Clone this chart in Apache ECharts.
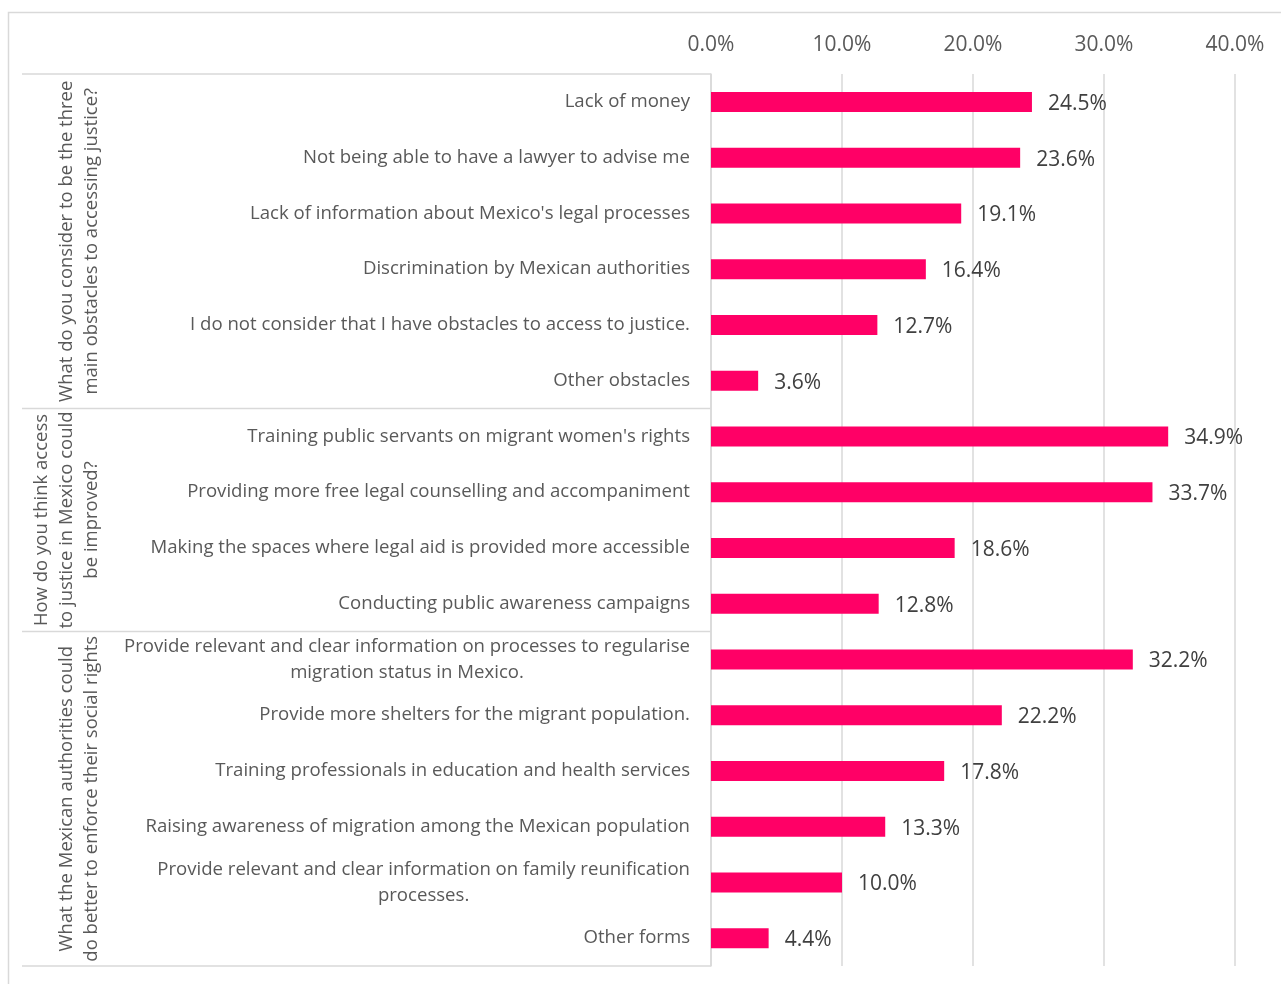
<!DOCTYPE html>
<html>
<head>
<meta charset="utf-8">
<script src="https://cdn.jsdelivr.net/npm/echarts@6/dist/echarts.min.js"></script>
<style>
html, body { margin: 0; padding: 0; background: #fff; }
#main { width: 1281px; height: 984px; }
</style>
</head>
<body>
<div id="main"></div>
<script>
// categories top to bottom
var categories = [
  "Lack of money",
  "Not being able to have a lawyer to advise me",
  "Lack of information about Mexico's legal processes",
  "Discrimination by Mexican authorities",
  "I do not consider that I have obstacles to access to justice.",
  "Other obstacles",
  "Training public servants on migrant women's rights",
  "Providing more free legal counselling and accompaniment",
  "Making the spaces where legal aid is provided more accessible",
  "Conducting public awareness campaigns",
  "Provide relevant and clear information on processes to regularise\nmigration status in Mexico.",
  "Provide more shelters for the migrant population.",
  "Training professionals in education and health services",
  "Raising awareness of migration among the Mexican population",
  "Provide relevant and clear information on family reunification\nprocesses.",
  "Other forms"
];
var values = [24.5, 23.6, 19.1, 16.4, 12.7, 3.6, 34.9, 33.7, 18.6, 12.8, 32.2, 22.2, 17.8, 13.3, 10.0, 4.4];
var groupNames = [
  "What do you consider to be the three\nmain obstacles to accessing justice?",
  "How do you think access\nto justice in Mexico could\nbe improved?",
  "What the Mexican authorities could\ndo better to enforce their social rights"
];
var groupSizes = [6, 4, 6];
var xTicks = [0, 10, 20, 30, 40];

var font = "'Open Sans', sans-serif";
var lineColor = '#d9d9d9';

var myChart = echarts.init(document.getElementById('main'));
var option = {
  animation: false,
  grid: { left: 711, right: 46, top: 74, bottom: 18 },
  xAxis: {
    type: 'value',
    position: 'top',
    min: xTicks[0],
    max: xTicks[xTicks.length - 1],
    interval: 10,
    axisLine: { show: false },
    axisTick: { show: false },
    axisLabel: {
      margin: 18,
      fontFamily: font,
      fontSize: 21,
      color: '#595959',
      formatter: function (v) { return v.toFixed(1) + '%'; }
    },
    splitLine: { lineStyle: { color: lineColor, width: 1.5 } }
  },
  yAxis: {
    type: 'category',
    inverse: true,
    data: categories,
    axisLine: { show: true, lineStyle: { color: lineColor, width: 1.5 } },
    axisTick: { show: false },
    axisLabel: {
      margin: 21,
      fontFamily: font,
      fontSize: 18.6,
      color: '#595959',
      lineHeight: 26,
      formatter: function (v) {
        return v.split('\n').map(function (s) { return '{c|' + s + '}'; }).join('\n');
      },
      rich: {
        c: { align: 'center', fontFamily: font, fontSize: 18.6, color: '#595959', lineHeight: 26 }
      }
    }
  },
  series: [{
    type: 'bar',
    data: values,
    barWidth: 20,
    itemStyle: { color: '#ff0066' },
    label: {
      show: true,
      position: 'right',
      distance: 16,
      offset: [0, 2],
      fontFamily: font,
      fontSize: 21,
      color: '#404040',
      formatter: function (p) { return p.value.toFixed(1) + '%'; }
    }
  }]
};
myChart.setOption(option);

// group separators and group titles, placed with the category scale
var y0 = myChart.convertToPixel({ yAxisIndex: 0 }, 0);
var y1 = myChart.convertToPixel({ yAxisIndex: 0 }, 1);
var band = y1 - y0;
var axisX = myChart.convertToPixel({ xAxisIndex: 0 }, 0);
var graphics = [{
  type: 'rect',
  shape: { x: 8.5, y: 12.5, width: 1400, height: 1100 },
  style: { fill: null, stroke: lineColor, lineWidth: 1.5 },
  silent: true
}];
var start = 0;
var topY = y0 - band / 2;
graphics.push({
  type: 'line',
  shape: { x1: 22, y1: topY, x2: axisX, y2: topY },
  style: { stroke: lineColor, lineWidth: 1.5 }
});
groupSizes.forEach(function (n, gi) {
  var a = myChart.convertToPixel({ yAxisIndex: 0 }, start) - band / 2;
  var b = myChart.convertToPixel({ yAxisIndex: 0 }, start + n - 1) + band / 2;
  graphics.push({
    type: 'line',
    shape: { x1: 22, y1: b, x2: axisX, y2: b },
    style: { stroke: lineColor, lineWidth: 1.5 }
  });
  graphics.push({
    type: 'text',
    x: 104,
    y: (a + b) / 2,
    rotation: Math.PI / 2,
    style: {
      text: groupNames[gi],
      fontFamily: font,
      fontSize: 18.5,
      lineHeight: 25,
      fill: '#595959',
      align: 'center',
      verticalAlign: 'bottom'
    }
  });
  start += n;
});
myChart.setOption({ graphic: graphics });
</script>
</body>
</html>
